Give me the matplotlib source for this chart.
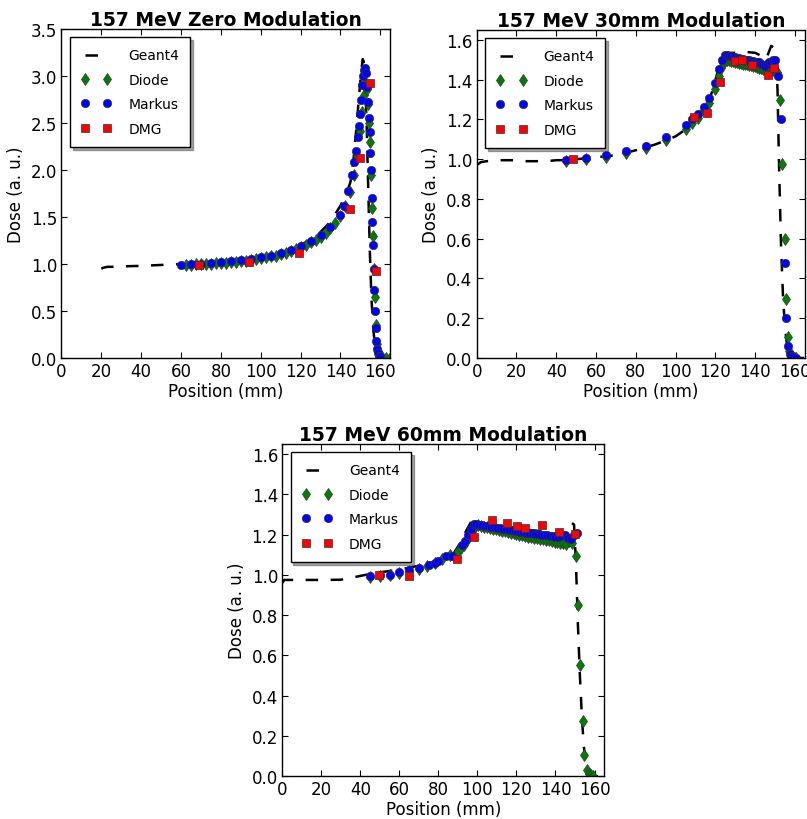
import numpy as np
import matplotlib
matplotlib.use('Agg')
import matplotlib.pyplot as plt

# ---- 157 MeV zero modulation ----
g1_x = [20, 21, 23, 26, 30, 40, 50, 60, 70, 80, 90, 100, 110, 120,
        125, 130, 135, 140, 143, 145, 146.5, 148, 149, 150,
        150.7, 151.2, 151.7, 152.2, 152.7, 153.2, 154, 154.8, 155.6, 156.5, 157.5, 158.5, 160, 165]
g1_y = [0.95, 0.96, 0.97, 0.97, 0.975, 0.98, 0.99, 1.0, 1.01, 1.03, 1.05, 1.08, 1.12, 1.2,
        1.26, 1.34, 1.45, 1.62, 1.75, 1.87, 2.1, 2.45, 2.7, 2.95,
        3.1, 3.18, 3.15, 3.0, 2.75, 2.45, 1.75, 1.1, 0.62, 0.3, 0.1, 0.03, 0.0, 0.0]

d1_x = [62.5, 65, 67.5, 70, 72.5, 75, 77.5, 80, 82.5, 85, 87.5, 90, 92.5, 95, 97.5, 100,
        102.5, 105, 107.5, 110, 112.5, 115, 117.5, 120, 122.5, 125, 127.5, 130, 132.5, 135, 137.5, 140,
        142.5, 145, 147, 148.5, 150, 151, 152, 152.5, 153, 153.5, 154, 154.5, 155, 155.5,
        156, 156.5, 157, 157.5, 158, 158.5, 159, 160, 161, 163, 165]
d1_y = [0.99, 0.99, 1.0, 1.0, 1.0, 1.005, 1.01, 1.01, 1.015, 1.02, 1.025, 1.03, 1.035, 1.04, 1.05, 1.06,
        1.07, 1.08, 1.09, 1.105, 1.12, 1.14, 1.16, 1.18, 1.2, 1.23, 1.26, 1.29, 1.33, 1.38, 1.44, 1.51,
        1.62, 1.77, 1.95, 2.15, 2.42, 2.62, 2.8, 2.88, 2.92, 2.86, 2.7, 2.5, 2.3, 1.95,
        1.6, 1.3, 0.95, 0.65, 0.35, 0.15, 0.07, 0.03, 0.01, 0.0, 0.0]

m1_x = [60, 65, 70, 75, 80, 85, 90, 95, 100, 105, 110, 115, 120, 125, 130, 135, 140,
        142, 144, 146, 147, 148, 149, 149.5, 150, 150.5, 151, 151.5, 152, 152.5, 153, 153.5,
        154, 154.3, 154.6, 155, 155.3, 155.6, 156, 156.3, 156.6, 157, 157.3, 157.6, 158, 158.4,
        158.8, 159.3, 160]
m1_y = [0.99, 1.0, 1.0, 1.01, 1.02, 1.03, 1.04, 1.05, 1.07, 1.09, 1.12, 1.15, 1.19, 1.24, 1.31, 1.39, 1.52,
        1.62, 1.78, 1.95, 2.08, 2.2, 2.35, 2.47, 2.6, 2.75, 2.9, 3.0, 3.06, 3.08, 3.03, 2.88,
        2.72, 2.55, 2.4, 2.18, 2.0, 1.7, 1.45, 1.2, 0.95, 0.72, 0.5, 0.32, 0.18, 0.1,
        0.05, 0.02, 0.01]

dmg1_x = [69, 94, 119, 145, 149.6, 155, 157.8]
dmg1_y = [0.99, 1.02, 1.12, 1.59, 2.13, 2.93, 0.93]

# ---- 157 MeV 30mm modulation ----
g2_x = [0, 2, 5, 10, 15, 20, 25, 30, 35, 40, 45, 50,
        60, 70, 80, 90, 100, 105, 110, 115, 118, 120,
        122, 124, 126, 130, 135, 140, 143, 145, 146.5, 148,
        149.5, 150.5, 151.2, 152, 153, 154, 155, 156.2, 157.5, 159, 162, 165]
g2_y = [0.97, 0.985, 0.99, 0.995, 0.995, 0.995, 0.99, 0.99, 0.99, 0.995, 0.995, 1.0,
        1.01, 1.02, 1.045, 1.075, 1.115, 1.15, 1.2, 1.27, 1.33, 1.4,
        1.47, 1.52, 1.535, 1.535, 1.54, 1.535, 1.52, 1.5, 1.53, 1.57,
        1.56, 1.5, 1.35, 0.95, 0.55, 0.3, 0.15, 0.045, 0.01, 0.0, 0.0, 0.0]

d2_x = [45, 55, 65, 75, 85, 95, 105, 108, 111, 114, 117, 120, 122, 123, 124,
        125, 126, 127, 128, 129, 130, 131, 132, 133, 134, 135, 136, 137, 138, 139, 140,
        141, 142, 143, 144, 145, 146, 147, 148, 149, 150, 151,
        152.3, 153.6, 154.9, 155.7, 156.6, 157.2, 158, 159, 160.5]
d2_y = [0.99, 1.0, 1.01, 1.03, 1.055, 1.095, 1.15, 1.18, 1.205, 1.25, 1.285, 1.355, 1.42, 1.46, 1.485,
        1.495, 1.5, 1.5, 1.495, 1.495, 1.49, 1.49, 1.485, 1.485, 1.48, 1.48, 1.48, 1.475, 1.475, 1.47, 1.47,
        1.465, 1.46, 1.46, 1.455, 1.46, 1.465, 1.47, 1.46, 1.45, 1.45, 1.44,
        1.30, 0.975, 0.6, 0.295, 0.107, 0.035, 0.01, 0.005, 0.0]

m2_x = [45, 55, 65, 75, 85, 95, 105, 108, 111, 114, 117, 120, 122, 123.5,
        125, 126, 127, 128, 129, 130, 131, 132, 133, 134, 135, 136, 137, 138, 139, 140,
        141, 142, 143, 144, 145, 146, 147, 148, 149, 150,
        151.5, 152.7, 154.9, 155.7, 156.6, 157.3, 158, 159, 160.5]
m2_y = [0.996, 1.007, 1.02, 1.04, 1.066, 1.11, 1.17, 1.2, 1.225, 1.265, 1.31, 1.385, 1.455, 1.50,
        1.525, 1.525, 1.52, 1.52, 1.515, 1.515, 1.51, 1.51, 1.505, 1.505, 1.50, 1.50, 1.50, 1.495, 1.495, 1.49,
        1.49, 1.49, 1.48, 1.475, 1.47, 1.48, 1.49, 1.49, 1.50, 1.50,
        1.42, 1.2, 0.48, 0.2, 0.06, 0.02, 0.01, 0.005, 0.0]

dmg2_x = [48.3, 109.4, 115.7, 122.5, 129.6, 133.3, 138.5, 146.5, 149.5]
dmg2_y = [1.0, 1.21, 1.23, 1.39, 1.494, 1.497, 1.475, 1.426, 1.458]

# ---- 157 MeV 60mm modulation ----
g3_x = [0, 1, 3, 10, 20, 30, 35, 40, 45, 50,
        60, 70, 80, 85, 88, 90, 92, 94, 96, 97.5,
        99, 100, 105, 110, 120, 130, 140, 144, 146, 148,
        149.5, 150.5, 151.5, 152.5, 153.5, 154.5, 155.5, 156.5, 158, 160, 165]
g3_y = [0.96, 0.975, 0.975, 0.975, 0.975, 0.976, 0.985, 0.995, 1.005, 1.013,
        1.026, 1.046, 1.07, 1.09, 1.11, 1.14, 1.175, 1.215, 1.25, 1.28,
        1.27, 1.26, 1.255, 1.245, 1.23, 1.22, 1.205, 1.2, 1.22, 1.26,
        1.25, 1.05, 0.75, 0.5, 0.3, 0.15, 0.06, 0.02, 0.005, 0.0, 0.0]

d3_x = [45, 50, 55, 60, 65, 70, 74, 78, 82, 86,
        90, 91.5, 93, 94.5, 96, 97.5, 99, 100.5, 102, 103.5,
        105, 106.5, 108, 109.5, 111, 112.5, 114, 115.5, 117, 118.5,
        120, 121.5, 123, 124.5, 126, 127.5, 129, 130.5, 132, 133.5,
        135, 136.5, 138, 139.5, 141, 142.5, 144, 145.5, 147, 148.5,
        150.5, 151.7, 152.7, 153.9, 154.7, 155.9, 157, 158, 159]
d3_y = [0.99, 0.995, 1.0, 1.01, 1.02, 1.03, 1.045, 1.06, 1.08, 1.1,
        1.12, 1.135, 1.15, 1.175, 1.2, 1.225, 1.245, 1.25, 1.245, 1.24,
        1.24, 1.235, 1.23, 1.23, 1.225, 1.22, 1.22, 1.215, 1.21, 1.21,
        1.205, 1.2, 1.2, 1.195, 1.19, 1.19, 1.185, 1.185, 1.18, 1.18,
        1.175, 1.175, 1.17, 1.165, 1.165, 1.16, 1.16, 1.155, 1.17, 1.16,
        1.095, 0.85, 0.553, 0.273, 0.107, 0.033, 0.01, 0.005, 0.0]

m3_x = [45, 50, 55, 60, 65, 70, 75, 78, 80, 84, 87, 92, 93.5, 95, 96.5, 98,
        99.5, 101, 102.5, 104, 105.5, 107, 108.5, 110, 111.5, 113, 114.5, 116, 117.5, 119, 120.5,
        122, 123.5, 125, 126.5, 128, 129.5, 131, 132.5, 134, 135.5, 137, 138.5, 140, 141.5, 143,
        145, 146.5, 148, 149.5, 151]
m3_y = [0.993, 1.0, 1.0, 1.013, 1.022, 1.033, 1.049, 1.06, 1.07, 1.095, 1.095, 1.148, 1.17, 1.198, 1.228, 1.253,
        1.255, 1.25, 1.25, 1.245, 1.245, 1.24, 1.24, 1.235, 1.235, 1.23, 1.23, 1.225, 1.225, 1.22, 1.22,
        1.215, 1.215, 1.21, 1.21, 1.21, 1.205, 1.205, 1.2, 1.2, 1.2, 1.195, 1.195, 1.19, 1.19, 1.195,
        1.2, 1.185, 1.18, 1.2, 1.21]

dmg3_x = [49.8, 64.9, 89.5, 98.3, 107.3, 115.3, 120.3, 124.2, 133.2, 142, 150.2]
dmg3_y = [1.001, 0.996, 1.081, 1.188, 1.274, 1.259, 1.243, 1.231, 1.246, 1.211, 1.203]

titles = ['157 MeV Zero Modulation', '157 MeV 30mm Modulation', '157 MeV 60mm Modulation']
labels = ['Geant4', 'Diode', 'Markus', 'DMG']


def depth_dose(ax, g, d, m, dmg, title, ymax, ystep):
    ax.plot(g[0], g[1], 'k--', lw=1.8, dashes=(5, 5), label=labels[0])
    ax.plot(d[0], d[1], 'd', color=(0, 0.5, 0), ms=6.5, mec='#333333', mew=0.5, label=labels[1])
    ax.plot(m[0], m[1], 'o', color='b', ms=6, mec='#333333', mew=0.5, label=labels[2])
    ax.plot(dmg[0], dmg[1], 's', color='r', ms=6, mec='#333333', mew=0.5, label=labels[3])
    ax.set_xlim(0, 165)
    ax.set_ylim(0, ymax)
    ax.set_xticks(np.arange(0, 161, 20))
    ax.set_yticks(np.arange(0, ymax + 1e-6, ystep))
    ax.set_yticklabels(['%.1f' % v for v in np.arange(0, ymax + 1e-6, ystep)])
    ax.tick_params(direction='in', top=True, right=True, labelsize=12, length=4, pad=3)
    ax.set_xlabel('Position (mm)', fontsize=12, labelpad=1)
    ax.set_ylabel('Dose (a. u.)', fontsize=12, labelpad=4)
    ax.set_title(title, fontsize=13.5, fontweight='bold', pad=3)
    leg = ax.legend(loc='upper left', numpoints=2, shadow=True, fancybox=False,
                    fontsize=10, handlelength=2.2, labelspacing=0.75,
                    borderpad=0.8, handletextpad=1.2, borderaxespad=0.6)
    leg.get_frame().set_edgecolor('k')
    leg.get_frame().set_linewidth(1.0)
    for sp in ax.spines.values():
        sp.set_linewidth(1.0)


fig = plt.figure(figsize=(8.07, 8.2), dpi=100, facecolor='white')
ax1 = fig.add_axes([0.0762, 0.5622, 0.4074, 0.4012])
ax2 = fig.add_axes([0.5907, 0.5622, 0.4068, 0.4000])
ax3 = fig.add_axes([0.3498, 0.0521, 0.3990, 0.4052])

depth_dose(ax1, (g1_x, g1_y), (d1_x, d1_y), (m1_x, m1_y), (dmg1_x, dmg1_y), titles[0], 3.5, 0.5)
depth_dose(ax2, (g2_x, g2_y), (d2_x, d2_y), (m2_x, m2_y), (dmg2_x, dmg2_y), titles[1], 1.65, 0.2)
depth_dose(ax3, (g3_x, g3_y), (d3_x, d3_y), (m3_x, m3_y), (dmg3_x, dmg3_y), titles[2], 1.65, 0.2)

fig.savefig('out.png', dpi=100, facecolor='white')
